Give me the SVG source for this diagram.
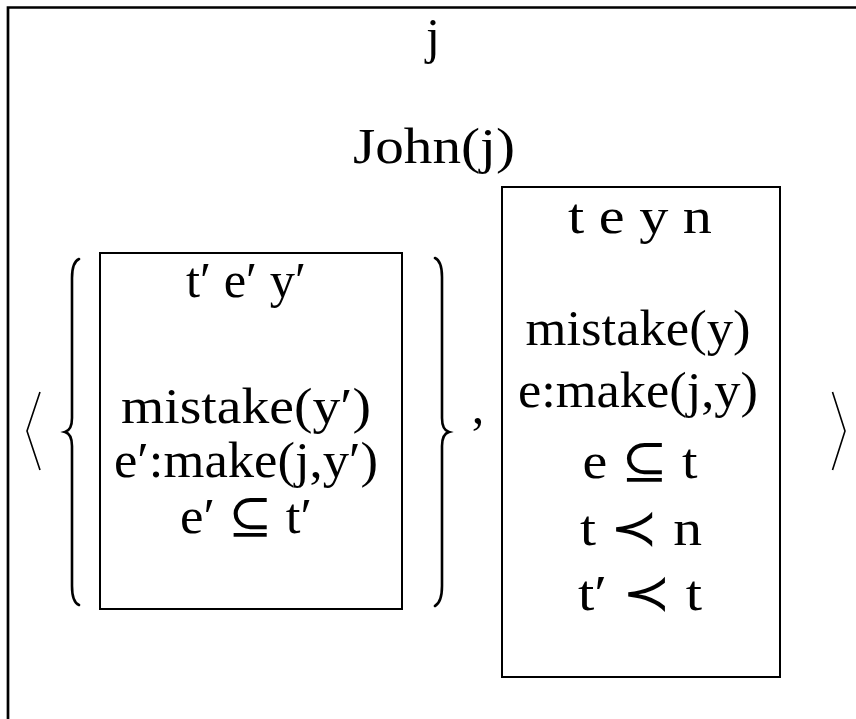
<svg xmlns="http://www.w3.org/2000/svg" width="856" height="719" viewBox="0 0 856 719">
<style>
text{font-family:"Liberation Serif","DejaVu Serif",serif;font-size:50px;fill:#000;text-anchor:middle}
.box{fill:none;stroke:#000;stroke-width:2}
.ln{fill:none;stroke:#000;stroke-width:1.6;stroke-linejoin:miter}
.br{fill:none;stroke:#000;stroke-width:2.6;stroke-linecap:round}
</style>
<rect width="856" height="719" fill="#fff"/>
<g id="outer">
<path d="M8,719 V7.5 H856" fill="none" stroke="#000" stroke-width="2.7"/>
<text x="433" y="53">j</text>
<text x="434" y="163" textLength="162" lengthAdjust="spacingAndGlyphs">John(j)</text>
</g>
<g id="brackets">
<path class="ln" d="M40,392 L27,431 L40,470"/>
<path class="ln" d="M832.5,392 L845,431 L832.5,470"/>
<path class="br" d="M79,259 Q72,262 72,278 V418 Q72,430 65,432 Q72,434 72,446 V586 Q72,602 79,605"/>
<path class="br" d="M435,258 Q442,261 442,277 V418 Q442,430 449,432 Q442,434 442,446 V586 Q442,602 435,606"/>
<text x="478" y="423">,</text>
</g>
<g id="box1">
<rect class="box" x="100" y="253" width="302" height="356"/>
<text x="246" y="297" textLength="120" lengthAdjust="spacingAndGlyphs">t′ e′ y′</text>
<text x="246" y="423" textLength="250" lengthAdjust="spacingAndGlyphs">mistake(y′)</text>
<text x="246" y="477" textLength="264" lengthAdjust="spacingAndGlyphs">e′:make(j,y′)</text>
<text x="246" y="533" textLength="132" lengthAdjust="spacingAndGlyphs">e′ ⊆ t′</text>
</g>
<g id="box2">
<rect class="box" x="502" y="187" width="278" height="490"/>
<text x="640" y="233" textLength="144" lengthAdjust="spacingAndGlyphs">t e y n</text>
<text x="638" y="345" textLength="225" lengthAdjust="spacingAndGlyphs">mistake(y)</text>
<text x="638" y="407" textLength="240" lengthAdjust="spacingAndGlyphs">e:make(j,y)</text>
<text x="640" y="478" textLength="115" lengthAdjust="spacingAndGlyphs">e ⊆ t</text>
<text x="641" y="545" textLength="122" lengthAdjust="spacingAndGlyphs">t ≺ n</text>
<text x="640" y="610" textLength="124" lengthAdjust="spacingAndGlyphs">t′ ≺ t</text>
</g>
</svg>
